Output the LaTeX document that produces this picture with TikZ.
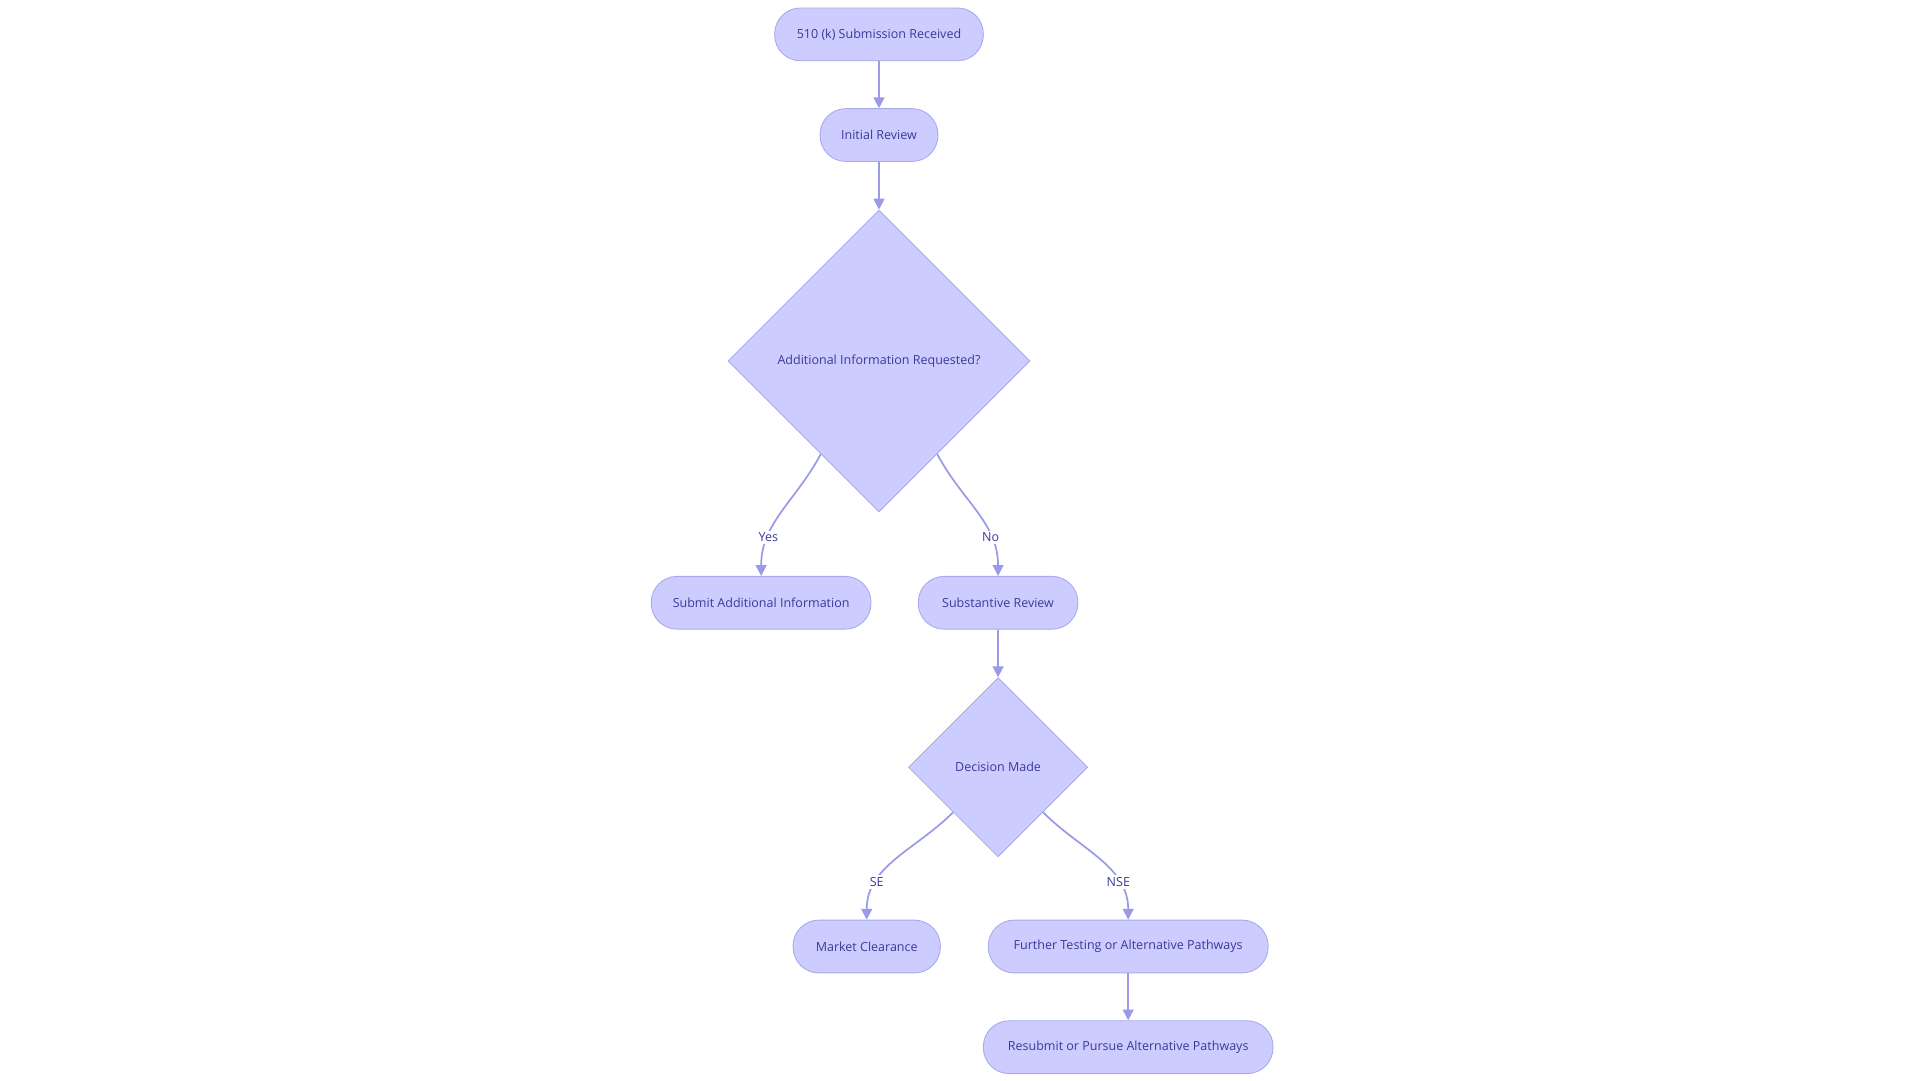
\documentclass[tikz,border=0pt]{standalone}
\usepackage{fontspec}
\setmainfont{Open Sans}
\usetikzlibrary{positioning,shapes.geometric,arrows.meta}
\definecolor{boxfill}{HTML}{CCCCFF}
\definecolor{boxline}{HTML}{A8A8EE}
\definecolor{edgecol}{HTML}{9A9AE6}
\definecolor{textcol}{HTML}{3A3A9A}
\tikzstyle{stage} = [rectangle, draw=boxline, fill=boxfill, %
   text centered, rounded corners=0.42cm, minimum height=0.86cm, inner sep=0pt, text=textcol]
\tikzstyle{decide} = [diamond, draw=boxline, fill=boxfill, %
   text centered, aspect=1, inner sep=0pt, text=textcol]
\tikzstyle{line} = [draw=edgecol, thick, -{Triangle[length=5pt,width=5pt]}]
\tikzstyle{lbl} = [fill=white, inner sep=1pt, text=textcol]

\begin{document}
\begin{tikzpicture}[x=0.02cm, y=-0.02cm, font=\fontsize{5.8}{7}\selectfont]
         \useasboundingbox (0,0) rectangle (1564,880);
         % Place nodes
         \node[stage, minimum width=3.4cm] (received) at (716,28) {510 (k) Submission Received};
         \node[stage, minimum width=1.92cm] (initial) at (716,110) {Initial Review};
         \node[decide, minimum width=4.92cm, minimum height=4.92cm] (addinfo) at (716,294) {Additional Information Requested?};
         \node[stage, minimum width=3.58cm] (submit) at (620,491) {Submit Additional Information};
         \node[stage, minimum width=2.6cm] (substantive) at (813,491) {Substantive Review};
         \node[decide, minimum width=2.92cm, minimum height=2.92cm] (decision) at (813,625) {Decision Made};
         \node[stage, minimum width=2.4cm] (clearance) at (706,771) {Market Clearance};
         \node[stage, minimum width=4.56cm] (testing) at (919,771) {Further Testing or Alternative Pathways};
         \node[stage, minimum width=4.72cm] (resubmit) at (919,853) {Resubmit or Pursue Alternative Pathways};

         % Draw edges
         \path [line] (received) -- (initial);
         \path [line] (initial) -- (addinfo);
         \path [line] (addinfo.-122) to[out=-118, in=90] node[lbl, pos=0.72] {Yes} (submit.north);
         \path [line] (addinfo.-58) to[out=-62, in=90] node[lbl, pos=0.72] {No} (substantive.north);
         \path [line] (substantive) -- (decision);
         \path [line] (decision.-135) to[out=-135, in=90] node[lbl, pos=0.72] {SE} (clearance.north);
         \path [line] (decision.-45) to[out=-45, in=90] node[lbl, pos=0.72] {NSE} (testing.north);
         \path [line] (testing) -- (resubmit);
\end{tikzpicture}
\end{document}
